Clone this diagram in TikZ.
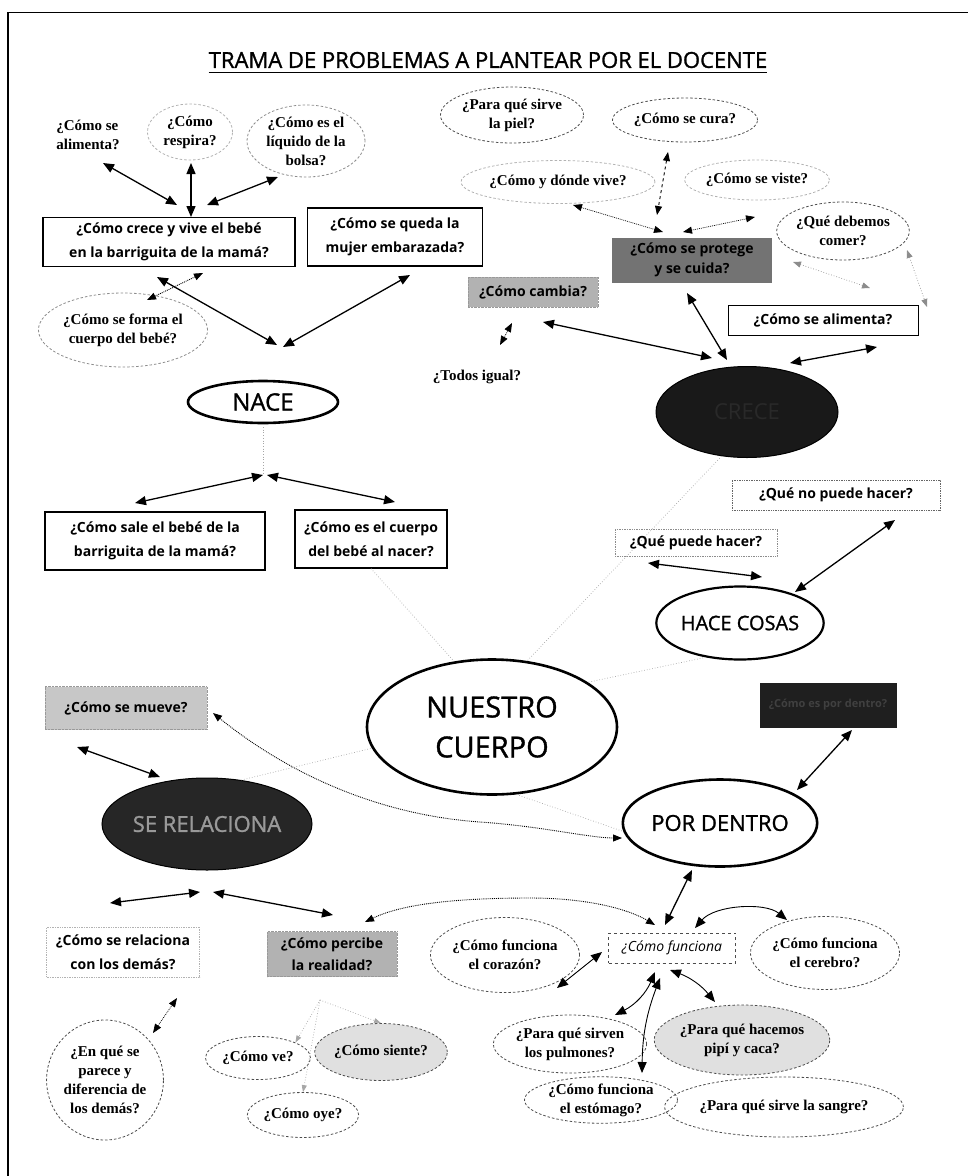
\documentclass[tikz,border=0pt]{standalone}
\usepackage{fontspec}
\usetikzlibrary{arrows.meta,shapes.geometric}
\newfontfamily\comicfont{Open Sans}
\newfontfamily\comicheavy{Open Sans}[FakeBold=1.2]
\newfontfamily\romanfont{Liberation Serif}
\newcommand\boxtext{\fontsize{14}{24}\selectfont\comicfont\bfseries}
\newcommand\serifq{\fontsize{15}{19}\selectfont\romanfont\bfseries}

\tikzset{
  >={Triangle[length=11pt,width=9pt]},
  mainlink/.style={<->, line width=1.3pt},
  dotlink/.style={<->, line width=0.9pt, densely dotted, >={Triangle[length=9pt,width=7pt]}},
  dashlink/.style={<->, line width=0.9pt, dashed, >={Triangle[length=9pt,width=7pt]}},
  faintlink/.style={draw=black!35, line width=0.7pt, dotted},
  faintarrow/.style={<->, draw=black!45, line width=0.7pt, dotted, >={Triangle[length=8pt,width=6pt]}},
  qbox/.style={rectangle, draw, line width=1.1pt, align=center, inner sep=0pt, font=\boxtext},
  dotbox/.style={rectangle, draw=black!60, line width=0.7pt, densely dotted, align=center, inner sep=0pt, font=\boxtext},
  qell/.style={ellipse, draw=black!70, line width=0.8pt, dash pattern=on 2.5pt off 2pt, inner sep=0pt, align=center, font=\serifq},
  faintell/.style={qell, draw=black!30},
  topic/.style={ellipse, draw, line width=2.6pt, inner sep=0pt, align=center},
  darktopic/.style={ellipse, draw=black, fill=black!90, line width=1pt, inner sep=0pt, align=center},
}

\begin{document}
\begin{tikzpicture}[x=1pt,y=-1pt]
\useasboundingbox (0,0) rectangle (968,1176);

% page frame
\draw[line width=1.6pt] (8,1176) -- (8,12);
\draw[line width=0.9pt] (8,12) -- (968,12);

% heading
\node[font=\fontsize{22}{24}\selectfont\comicheavy, inner sep=0pt] (title) at (488,60) {TRAMA DE PROBLEMAS A PLANTEAR POR EL DOCENTE};
\draw[line width=1.4pt] ([yshift=-4pt]title.south west) -- ([yshift=-4pt]title.south east);

% ---------- central topic and branches ----------
\node[topic, minimum width=250pt, minimum height=135pt, font=\fontsize{29}{40}\selectfont\comicheavy] (cuerpo) at (492,727) {NUESTRO\\CUERPO};
\node[topic, minimum width=150pt, minimum height=42pt, font=\fontsize{24}{26}\selectfont\comicheavy] (nace) at (263,402) {NACE};
\node[darktopic, minimum width=182pt, minimum height=91pt, text=black!84, font=\fontsize{22}{24}\selectfont\comicfont] (crece) at (747,412) {CRECE};
\node[topic, line width=2.2pt, minimum width=166pt, minimum height=73pt, font=\fontsize{20}{24}\selectfont\comicheavy] (hace) at (740,623) {HACE COSAS};
\node[topic, minimum width=170pt, minimum height=87pt, font=\fontsize{22}{24}\selectfont\comicheavy] (dentro) at (720,823) {POR DENTRO};
\node[darktopic, fill=black!85, minimum width=210pt, minimum height=92pt, text=black!40, font=\fontsize{22}{24}\selectfont\comicheavy] (relac) at (207,824) {SE RELACIONA};

% ---------- NACE ----------
\node[align=left, font=\serifq, inner sep=0pt] (alimL) at (88,135) {¿Cómo se\\alimenta?};
\node[faintell, minimum width=85pt, minimum height=56pt] (respira) at (190,132) {¿Cómo\\respira?};
\node[qell, draw=black!45, minimum width=118pt, minimum height=72pt] (liquido) at (306,141) {¿Cómo es el\\líquido de la\\bolsa?};
\node[qbox, minimum width=252pt, minimum height=49pt] (vive) at (169,242) {¿Cómo crece y vive el bebé\\en la barriguita de la mamá?};
\node[qbox, minimum width=175pt, minimum height=58pt] (queda) at (395,237) {¿Cómo se queda la\\mujer embarazada?};
\node[qell, draw=black!45, minimum width=160pt, minimum height=74pt] (forma) at (123,330) {¿Cómo se forma el\\cuerpo del bebé?};
\node[qbox, minimum width=220pt, minimum height=58pt] (sale) at (155,541) {¿Cómo sale el bebé de la\\barriguita de la mamá?};
\node[qbox, minimum width=152pt, minimum height=58pt] (nacer) at (371,539) {¿Cómo es el cuerpo\\del bebé al nacer?};

\coordinate (n1a) at (103,163); \coordinate (n1b) at (177,205);
\coordinate (n2a) at (191,163); \coordinate (n2b) at (191,217);
\coordinate (n3a) at (278,177); \coordinate (n3b) at (207,205);
\coordinate (n4a) at (203,273); \coordinate (n4b) at (147,300);
\coordinate (n5a) at (157,277); \coordinate (n5b) at (277,345);
\coordinate (n6a) at (410,275); \coordinate (n6b) at (283,347);
\coordinate (n7) at (263,475);  \coordinate (n7l) at (135,503);
\coordinate (n8) at (267,475);  \coordinate (n8r) at (395,502);
\draw[mainlink] (n1a) -- (n1b);
\draw[mainlink] (n2a) -- (n2b);
\draw[mainlink] (n3a) -- (n3b);
\draw[dotlink] (n4a) -- (n4b);
\draw[mainlink] (n5a) -- (n5b);
\draw[mainlink] (n6a) -- (n6b);
\draw[mainlink] (n7) -- (n7l);
\draw[mainlink] (n8) -- (n8r);
\draw[faintlink] (nace.south) -- (n7);
\draw[faintlink] (nacer.south) -- (cuerpo.120);

% ---------- CRECE ----------
\node[qell, minimum width=143pt, minimum height=56pt] (piel) at (512,115) {¿Para qué sirve\\la piel?};
\node[qell, minimum width=145pt, minimum height=44pt] (cura) at (685,120) {¿Cómo se cura?};
\node[faintell, minimum width=157pt, minimum height=43pt] (donde) at (558,182) {¿Cómo y dónde vive?};
\node[faintell, minimum width=145pt, minimum height=40pt] (viste) at (757,180) {¿Cómo se viste?};
\node[qell, minimum width=120pt, minimum height=58pt] (comer) at (843,231) {¿Qué debemos\\comer?};
\node[rectangle, fill=black!55, minimum width=160pt, minimum height=45pt, inner sep=0pt, align=center, font=\fontsize{14}{20}\selectfont\comicfont\bfseries] (protege) at (692,260) {¿Cómo se protege\\y se cuida?};
\node[rectangle, fill=black!30, draw=black!40, densely dotted, minimum width=130pt, minimum height=30pt, inner sep=0pt, font=\boxtext] (cambia) at (533,292) {¿Cómo cambia?};
\node[qbox, line width=0.9pt, minimum width=190pt, minimum height=30pt] (alimR) at (823,320) {¿Cómo se alimenta?};
\node[font=\serifq, inner sep=0pt] (todos) at (477,377) {¿Todos igual?};

\coordinate (c1a) at (668,152); \coordinate (c1b) at (657,215);
\coordinate (c2a) at (573,205); \coordinate (c2b) at (663,232);
\coordinate (c3a) at (755,217); \coordinate (c3b) at (683,232);
\coordinate (c4a) at (793,262); \coordinate (c4b) at (870,288);
\coordinate (c5a) at (907,250); \coordinate (c5b) at (927,307);
\coordinate (c6a) at (512,323); \coordinate (c6b) at (500,345);
\coordinate (c7a) at (543,322); \coordinate (c7b) at (712,358);
\coordinate (c8a) at (687,293); \coordinate (c8b) at (727,360);
\coordinate (c9a) at (790,363); \coordinate (c9b) at (877,347);
\draw[dashlink] (c1a) -- (c1b);
\draw[dotlink, line width=0.7pt] (c2a) -- (c2b);
\draw[dotlink, line width=0.7pt] (c3a) -- (c3b);
\draw[faintarrow] (c4a) -- (c4b);
\draw[faintarrow] (c5a) -- (c5b);
\draw[dotlink, line width=0.7pt] (c6a) -- (c6b);
\draw[mainlink] (c7a) -- (c7b);
\draw[mainlink] (c8a) -- (c8b);
\draw[mainlink] (c9a) -- (c9b);
\draw[faintlink] (crece.240) -- (cuerpo.62);

% ---------- HACE COSAS ----------
\node[dotbox, minimum width=208pt, minimum height=30pt] (nopuede) at (836,495) {¿Qué no puede hacer?};
\node[dotbox, draw=black!45, minimum width=162pt, minimum height=27pt] (puede) at (696,543) {¿Qué puede hacer?};
\coordinate (h1a) at (648,563); \coordinate (h1b) at (762,577);
\coordinate (h2a) at (895,520); \coordinate (h2b) at (795,592);
\draw[mainlink] (h1a) -- (h1b);
\draw[mainlink] (h2a) -- (h2b);
\draw[faintlink] (hace.225) -- (cuerpo.25);

% ---------- SE RELACIONA ----------
\node[rectangle, fill=black!22, draw=black!40, densely dotted, minimum width=162pt, minimum height=43pt, inner sep=0pt, font=\boxtext] (mueve) at (126,708) {¿Cómo se mueve?};
\node[dotbox, draw=black!30, minimum width=153pt, minimum height=50pt] (trato) at (123,952) {¿Cómo se relaciona\\con los demás?};
\node[rectangle, fill=black!30, draw=black!40, densely dotted, minimum width=130pt, minimum height=45pt, inner sep=0pt, align=center, font=\fontsize{14}{22}\selectfont\comicfont\bfseries] (percibe) at (332,954) {¿Cómo percibe\\la realidad?};
\node[qell, minimum width=116pt, minimum height=120pt] (parece) at (105,1080) {¿En qué se\\parece y\\diferencia de\\los demás?};
\node[qell, minimum width=105pt, minimum height=43pt] (ve) at (258,1058) {¿Cómo ve?};
\node[qell, fill=black!12, minimum width=112pt, minimum height=57pt] (siente) at (381,1052) {¿Cómo siente?};
\node[qell, minimum width=103pt, minimum height=45pt] (oye) at (303,1115) {¿Cómo oye?};

\coordinate (r1a) at (77,747);   \coordinate (r1b) at (160,777);
\coordinate (r2) at (200,892);   \coordinate (r2l) at (110,903);
\coordinate (r3) at (213,892);   \coordinate (r3r) at (333,915);
\coordinate (r4a) at (153,1033); \coordinate (r4b) at (177,998);
\coordinate (sense) at (320,1000);
\coordinate (mv) at (213,713);   \coordinate (pd) at (622,838);
\draw[mainlink] (r1a) -- (r1b);
\draw[mainlink] (r2) -- (r2l);
\draw[mainlink] (r3) -- (r3r);
\draw[dotlink, line width=0.7pt] (r4a) -- (r4b);
\draw[faintlink, ->, >={Triangle[length=7pt,width=5pt]}] (sense) -- (ve.north east);
\draw[faintlink, ->, >={Triangle[length=7pt,width=5pt]}] (sense) -- (siente.north);
\draw[faintlink, ->, >={Triangle[length=7pt,width=5pt]}] (sense) -- (oye.north);
\draw[dotlink] (mv) .. controls (290,775) and (380,815) .. (480,822) .. controls (540,826) and (590,838) .. (pd);
\draw[faintlink] (relac.52) -- (cuerpo.190);

% ---------- POR DENTRO ----------
\node[rectangle, fill=black!88, minimum width=137pt, minimum height=45pt, inner sep=0pt, text=black!75, font=\fontsize{11}{13}\selectfont\comicfont\bfseries] (forma2) at (828,705) {¿Cómo es por dentro?};
\node[rectangle, draw=black!70, line width=0.7pt, dashed, minimum width=127pt, minimum height=30pt, inner sep=0pt, font=\fontsize{14}{20}\selectfont\comicfont\itshape] (funciona) at (672,948) {¿Cómo funciona};
\node[qell, minimum width=125pt, minimum height=75pt] (corazon) at (505,955) {¿Cómo funciona\\el corazón?};
\node[qell, minimum width=130pt, minimum height=73pt] (cerebro) at (825,953) {¿Cómo funciona\\el cerebro?};
\node[qell, minimum width=144pt, minimum height=58pt] (pulmon) at (570,1044) {¿Para qué sirven\\los pulmones?};
\node[qell, fill=black!12, minimum width=151pt, minimum height=70pt] (pis) at (742,1040) {¿Para qué hacemos\\pipí y caca?};
\node[qell, minimum width=153pt, minimum height=46pt] (estomago) at (601,1100) {¿Cómo funciona\\el estómago?};
\node[qell, minimum width=212pt, minimum height=60pt] (sangre) at (784,1107) {¿Para qué sirve la sangre?};

\coordinate (d1a) at (852,730); \coordinate (d1b) at (797,790);
\coordinate (d2a) at (692,870); \coordinate (d2b) at (665,925);
\coordinate (d3a) at (695,928); \coordinate (d3b) at (787,920);
\coordinate (d4a) at (557,988); \coordinate (d4b) at (602,952);
\coordinate (d5a) at (655,972); \coordinate (d5b) at (615,1015);
\coordinate (d6a) at (660,978); \coordinate (d6b) at (642,1073);
\coordinate (d7a) at (670,970); \coordinate (d7b) at (715,1002);
\coordinate (pc) at (365,922);  \coordinate (fn) at (655,925);
\draw[mainlink] (d1a) -- (d1b);
\draw[mainlink] (d2a) -- (d2b);
\draw[<->, line width=0.9pt] (d3a) .. controls (715,905) and (765,902) .. (d3b);
\draw[<->, line width=0.9pt] (d4a) -- (d4b);
\draw[<->, line width=0.9pt] (d5a) to[bend left=20] (d5b);
\draw[<->, line width=0.9pt] (d6a) to[bend right=10] (d6b);
\draw[<->, line width=0.9pt] (d7a) to[bend left=15] (d7b);
\draw[dotlink] (pc) .. controls (400,905) and (450,898) .. (530,898) .. controls (590,898) and (630,910) .. (fn);
\draw[faintlink] (cuerpo.290) -- (dentro.185);

\end{tikzpicture}
\end{document}
